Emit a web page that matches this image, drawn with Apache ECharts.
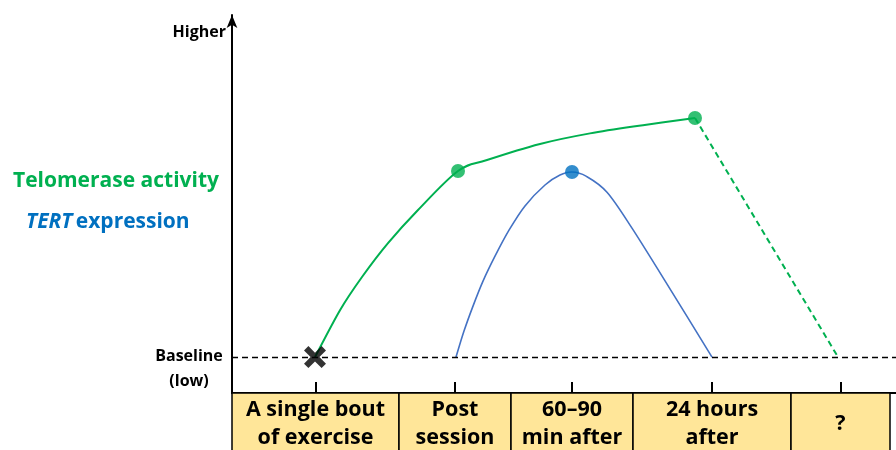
<!DOCTYPE html>
<html>
<head>
<meta charset="utf-8">
<script src="https://cdn.jsdelivr.net/npm/echarts@6/dist/echarts.min.js"></script>
<style>
  html, body { margin: 0; padding: 0; background: #fff; }
  #chart { width: 896px; height: 450px; }
</style>
</head>
<body>
<div id="chart"></div>
<script>
// timeline cells (x units = position along the timeline)
const cellEdges = [0, 167, 279, 401, 559, 658]
const cellLabels = [['A single bout', 'of exercise'], ['Post', 'session'], ['60–90', 'min after'], ['24 hours', 'after'], ['?']]

// telomerase activity (relative level, baseline = 0)
const telomerase = [[83, 0], [108, 13.7], [130, 23.4], [156, 33.3], [186, 43.0], [226, 54.4], [255, 57.6], [308, 62.3], [358, 65.4], [411, 67.8], [463, 69.9]]
const telomeraseMarks = [5, 10]
const telomeraseUnknown = [[463, 69.9], [606, 0]]

// TERT expression
const tert = [[224, 0], [232, 7.6], [241, 14.9], [251, 22.2], [263, 29.5], [277, 37.1], [293, 44.2], [313, 50.3], [328, 53.2], [340, 54.1],
  [354, 52.9], [375, 48.2], [400, 37.7], [440, 19.0], [480, 0]]
const tertMarks = [9]

const GREEN = '#00B050'
const BLUE_LINE = '#4472C4'
const BLUE = '#0070C0'
const FONT = '"Open Sans"'

const tickPos = cellLabels.map((_, i) => (cellEdges[i] + cellEdges[i + 1]) / 2)

// catmull-rom through the points, in pixel space
function curvePath(pts) {
  let d = 'M' + pts[0][0] + ',' + pts[0][1]
  for (let i = 0; i < pts.length - 1; i++) {
    const p0 = pts[i - 1] || pts[i]
    const p1 = pts[i]
    const p2 = pts[i + 1]
    const p3 = pts[i + 2] || p2
    const c1 = [p1[0] + (p2[0] - p0[0]) / 6, p1[1] + (p2[1] - p0[1]) / 6]
    const c2 = [p2[0] - (p3[0] - p1[0]) / 6, p2[1] - (p3[1] - p1[1]) / 6]
    d += 'C' + c1.join(',') + ' ' + c2.join(',') + ' ' + p2.join(',')
  }
  return d
}

function curveSeries(name, values, color, width) {
  return {
    name: name,
    type: 'custom',
    silent: true,
    data: [[0]],
    renderItem: (params, api) => ({
      type: 'path',
      shape: { pathData: curvePath(values.map(v => api.coord(v))) },
      style: { fill: 'none', stroke: color, lineWidth: width }
    }),
    z: 3
  }
}

const chart = echarts.init(document.getElementById('chart'))
chart.setOption({
  animation: false,
  backgroundColor: '#fff',
  grid: { left: 232, right: 0, top: 15, bottom: 57 },
  xAxis: {
    type: 'value',
    min: 0,
    max: 664,
    splitLine: { show: false },
    axisLine: { show: true, onZero: false, lineStyle: { color: '#000', width: 2 } },
    axisTick: { show: true, inside: true, length: 11, customValues: tickPos, lineStyle: { color: '#000', width: 2 } },
    axisLabel: { show: false, customValues: tickPos }
  },
  yAxis: {
    type: 'value',
    min: -10.5,
    max: 100,
    splitLine: { show: false },
    axisTick: { show: false },
    axisLabel: { show: false },
    axisLine: {
      show: true,
      onZero: false,
      symbol: ['none', 'arrow'],
      symbolSize: [8, 13],
      lineStyle: { color: '#000', width: 2 }
    }
  },
  graphic: [
    { type: 'text', x: 226, y: 32, style: { text: 'Higher', font: 'bold 16px ' + FONT, fill: '#000', align: 'right', verticalAlign: 'middle' } },
    { type: 'text', x: 189, y: 356, style: { text: 'Baseline', font: 'bold 16px ' + FONT, fill: '#000', align: 'center', verticalAlign: 'middle' } },
    { type: 'text', x: 189, y: 381, style: { text: '(low)', font: 'bold 16px ' + FONT, fill: '#000', align: 'center', verticalAlign: 'middle' } },
    { type: 'text', x: 13, y: 181, style: { text: 'Telomerase activity', font: 'bold 21px ' + FONT, fill: GREEN, verticalAlign: 'middle' } },
    {
      type: 'text', x: 26, y: 222,
      style: {
        text: '{i|TERT} {n|expression}',
        verticalAlign: 'middle',
        rich: {
          i: { font: 'italic bold 21px ' + FONT, fill: BLUE },
          n: { font: 'bold 21px ' + FONT, fill: BLUE }
        }
      }
    }
  ],
  series: [
    {
      // timeline cells under the axis
      type: 'custom',
      clip: false,
      silent: true,
      data: cellLabels.map((l, i) => [i]),
      renderItem: (params, api) => {
        const i = api.value(0)
        const p0 = api.coord([cellEdges[i], -10.5])
        const p1 = api.coord([cellEdges[i + 1], -10.5])
        return {
          type: 'group',
          children: [
            {
              type: 'rect',
              shape: { x: p0[0], y: p0[1], width: p1[0] - p0[0], height: 80 },
              style: { fill: '#FFE699', stroke: '#000', lineWidth: 1.5 }
            },
            {
              type: 'text',
              x: (p0[0] + p1[0]) / 2,
              y: p0[1] + 31,
              style: {
                text: cellLabels[i].join('\n'),
                font: 'bold 21.5px ' + FONT,
                lineHeight: 28,
                fill: '#000',
                align: 'center',
                verticalAlign: 'middle'
              }
            }
          ]
        }
      },
      z: 1
    },
    {
      name: 'Baseline',
      type: 'line',
      data: [],
      markLine: {
        silent: true,
        symbol: 'none',
        label: { show: false },
        lineStyle: { color: '#000', type: [6, 4], width: 1.3 },
        data: [{ yAxis: 0 }]
      }
    },
    curveSeries('Telomerase activity', telomerase, GREEN, 2),
    {
      name: 'Telomerase (unknown)',
      type: 'line',
      symbol: 'none',
      data: telomeraseUnknown,
      lineStyle: { color: GREEN, width: 2, type: [6, 4] },
      z: 3
    },
    curveSeries('TERT expression', tert, BLUE_LINE, 1.6),
    {
      type: 'scatter',
      symbolSize: 14,
      itemStyle: { color: GREEN },
      data: telomeraseMarks.map(i => telomerase[i]),
      z: 5
    },
    {
      type: 'scatter',
      symbolSize: 14,
      itemStyle: { color: BLUE },
      data: tertMarks.map(i => tert[i]),
      z: 5
    },
    {
      // exercise bout marker
      type: 'scatter',
      symbol: 'path://M0,4 L4,0 L10,6 L16,0 L20,4 L14,10 L20,16 L16,20 L10,14 L4,20 L0,16 L6,10 Z',
      symbolSize: 22,
      itemStyle: { color: '#000' },
      data: [telomerase[0]],
      z: 6
    }
  ]
})
</script>
</body>
</html>
